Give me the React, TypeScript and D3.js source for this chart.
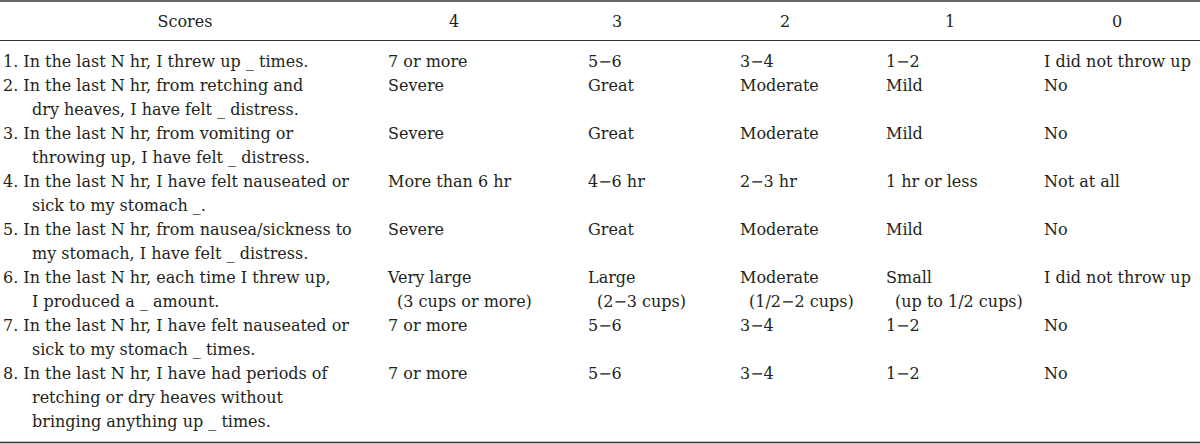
import React from "react";
import * as d3 from "d3";

const headers = ["Scores", "4", "3", "2", "1", "0"];

const items: string[][] = [
  ["1. In the last N hr, I threw up _ times."],
  ["2. In the last N hr, from retching and", "dry heaves, I have felt _ distress."],
  ["3. In the last N hr, from vomiting or", "throwing up, I have felt _ distress."],
  ["4. In the last N hr, I have felt nauseated or", "sick to my stomach _."],
  ["5. In the last N hr, from nausea/sickness to", "my stomach, I have felt _ distress."],
  ["6. In the last N hr, each time I threw up,", "I produced a _ amount."],
  ["7. In the last N hr, I have felt nauseated or", "sick to my stomach _ times."],
  ["8. In the last N hr, I have had periods of", "retching or dry heaves without", "bringing anything up _ times."],
];

const score4: string[][] = [
  ["7 or more"], ["Severe"], ["Severe"], ["More than 6 hr"], ["Severe"],
  ["Very large", "(3 cups or more)"], ["7 or more"], ["7 or more"],
];
const score3: string[][] = [
  ["5−6"], ["Great"], ["Great"], ["4−6 hr"], ["Great"],
  ["Large", "(2−3 cups)"], ["5−6"], ["5−6"],
];
const score2: string[][] = [
  ["3−4"], ["Moderate"], ["Moderate"], ["2−3 hr"], ["Moderate"],
  ["Moderate", "(1/2−2 cups)"], ["3−4"], ["3−4"],
];
const score1: string[][] = [
  ["1−2"], ["Mild"], ["Mild"], ["1 hr or less"], ["Mild"],
  ["Small", "(up to 1/2 cups)"], ["1−2"], ["1−2"],
];
const score0: string[][] = [
  ["I did not throw up"], ["No"], ["No"], ["Not at all"], ["No"],
  ["I did not throw up"], ["No"], ["No"],
];

const columns = [items, score4, score3, score2, score1, score0];

export default function App() {
  const W = 1200;
  const H = 444;
  const font = "DejaVu Serif";
  const fs = 16;
  const color = "#231f20";

  // column left edges and header centers
  const colLeft = [3, 388, 588, 740, 886, 1044];
  const headerCenter = [185, 454, 617, 785, 950, 1117];
  const indent = [29, 9, 9, 9, 9, 9];

  // line slot positions
  const rowStart: number[] = [];
  let acc = 0;
  items.forEach((r) => {
    rowStart.push(acc);
    acc += r.length;
  });
  const y = d3.scaleLinear().domain([0, acc - 1]).range([66.5, 66.5 + 24 * (acc - 1)]);

  return (
    <svg width={W} height={H} style={{ position: "absolute", left: 0, top: 0, background: "#fff" }}>
      <rect x={0} y={0} width={W} height={H} fill="#fff" />
      <line x1={0} x2={W} y1={1} y2={1} stroke="#333" strokeWidth={1.5} />
      <line x1={0} x2={W} y1={40.5} y2={40.5} stroke="#333" strokeWidth={1.2} />
      <line x1={0} x2={W} y1={442.5} y2={442.5} stroke="#333" strokeWidth={1.5} />
      <g fontFamily={font} fontSize={fs} fill={color}>
        {headers.map((h, i) => (
          <text key={"h" + i} x={headerCenter[i]} y={27} textAnchor="middle">
            {h}
          </text>
        ))}
        {columns.map((col, ci) =>
          col.map((cell, ri) =>
            cell.map((line, li) => (
              <text
                key={`c${ci}-${ri}-${li}`}
                x={colLeft[ci] + (li > 0 ? indent[ci] : 0)}
                y={y(rowStart[ri] + li)}
              >
                {line}
              </text>
            ))
          )
        )}
      </g>
    </svg>
  );
}
